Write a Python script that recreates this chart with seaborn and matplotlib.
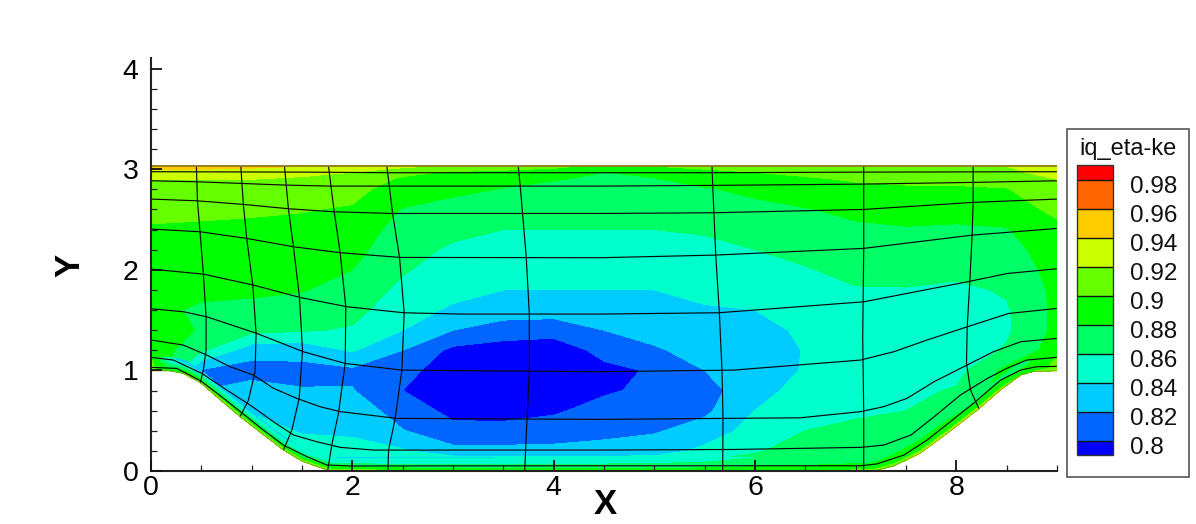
import matplotlib
matplotlib.use('Agg')

import numpy as np
import matplotlib.pyplot as plt
import seaborn as sns
from matplotlib.cm import ScalarMappable
from matplotlib.colors import BoundaryNorm, ListedColormap
from matplotlib.patches import Polygon, Rectangle
from matplotlib.ticker import MultipleLocator

# --- Field ---
GRID_X = [0, .5, 1, 1.5, 2, 2.5, 3, 3.5, 4, 4.5, 5, 5.5, 6, 6.5, 7, 7.5, 8, 8.5, 9]
GRID_Y = [3.03, 2.97, 2.9, 2.8, 2.6, 2.4, 2.2, 2.0, 1.8, 1.6, 1.4, 1.2, 1.0, .8, .6, .4, .2, 0]

# one line per x column, top to bottom
IQ_COLUMNS = [
    [.945, .935, .92, .913, .905, .898, .895, .893, .892, .89, .892, .895, .905, .905, .905, .905, .905, .905],
    [.945, .935, .92, .913, .904, .897, .894, .892, .889, .874, .878, .863, .818, .82, .82, .82, .82, .82],
    [.945, .93, .92, .912, .902, .897, .893, .89, .884, .874, .866, .828, .812, .828, .838, .85, .85, .85],
    [.94, .925, .917, .91, .901, .895, .892, .889, .881, .872, .862, .826, .815, .821, .83, .838, .85, .87],
    [.935, .92, .912, .906, .898, .894, .886, .88, .873, .866, .858, .842, .816, .821, .832, .835, .85, .88],
    [.925, .905, .897, .89, .879, .87, .867, .862, .855, .848, .84, .82, .807, .80, .81, .821, .842, .88],
    [.915, .898, .89, .885, .872, .865, .857, .851, .846, .837, .82, .795, .788, .79, .795, .805, .826, .88],
    [.91, .895, .885, .879, .868, .86, .853, .847, .84, .829, .811, .79, .785, .787, .792, .807, .825, .88],
    [.905, .89, .881, .875, .866, .86, .853, .847, .84, .829, .808, .788, .783, .788, .797, .81, .825, .88],
    [.895, .88, .877, .873, .866, .86, .853, .847, .84, .83, .82, .806, .795, .797, .808, .815, .826, .88],
    [.90, .883, .879, .875, .867, .86, .853, .847, .84, .833, .826, .818, .802, .805, .81, .818, .83, .87],
    [.905, .895, .887, .878, .87, .862, .855, .85, .845, .838, .832, .826, .82, .812, .816, .828, .845, .875],
    [.91, .90, .894, .885, .874, .866, .86, .855, .849, .84, .834, .829, .827, .833, .84, .848, .858, .875],
    [.915, .905, .897, .89, .879, .87, .864, .859, .853, .847, .843, .841, .842, .847, .853, .86, .868, .882],
    [.915, .908, .902, .895, .884, .877, .87, .864, .859, .856, .853, .85, .849, .852, .857, .864, .874, .885],
    [.915, .91, .904, .897, .885, .879, .873, .866, .859, .854, .85, .849, .851, .855, .86, .868, .878, .89],
    [.918, .912, .905, .897, .885, .878, .872, .865, .856, .85, .848, .848, .853, .862, .87, .88, .89, .90],
    [.92, .914, .906, .899, .888, .879, .873, .868, .862, .858, .857, .862, .885, .89, .89, .89, .89, .89],
    [.94, .93, .92, .914, .906, .893, .89, .887, .885, .885, .885, .89, .905, .905, .905, .905, .905, .905],
]

# lower wall of the channel
WALL_X = [0, .19, .32, .49, .69, .885, 1.12, 1.315, 1.51, 1.78, 2.5, 3.5, 4.5, 5.5, 6.5,
          7.18, 7.38, 7.64, 7.91, 8.21, 8.44, 8.64, 8.77, 9]
WALL_Y = [.995, .995, .97, .878, .706, .54, .358, .209, .093, 0, 0, 0, 0, 0, 0,
          0, .05, .176, .374, .606, .805, .954, .99, .995]
TOP_Y = 3.03

# thin layer along the wall: height above wall, then value per wall station
STRIP_D = [0, .03, .08, .13]
STRIP_IQ = [
    [.905, .905, .905, .90],
    [.89, .878, .855, .84],
    [.90, .88, .85, .83],
    [.91, .885, .85, .825],
    [.915, .885, .855, .83],
    [.915, .885, .855, .835],
    [.915, .885, .855, .835],
    [.915, .885, .855, .835],
    [.915, .885, .858, .84],
    [.915, .888, .86, .84],
    [.905, .88, .85, .838],
    [.90, .878, .855, .84],
    [.90, .878, .855, .84],
    [.90, .88, .862, .85],
    [.90, .885, .875, .87],
    [.91, .89, .88, .875],
    [.915, .895, .885, .878],
    [.925, .895, .885, .88],
    [.93, .895, .885, .88],
    [.93, .89, .88, .875],
    [.925, .89, .88, .875],
    [.90, .885, .875, .88],
    [.90, .89, .885, .88],
    [.905, .905, .905, .90],
]

# mesh lines running along the channel
MESH_ALONG = [
    ([0, .255, .49, .70, .918, 1.117, 1.315, 1.55, 1.746, 1.98, 4.46, 7.05, 7.21, 7.48, 7.71, 7.94, 8.17, 8.44, 8.64, 8.8, 9],
     [1.03, 1.02, .898, .739, .566, .407, .258, .142, .06, .05, .052, .052, .07, .159, .308, .49, .673, .904, 1.004, 1.037, 1.04]),
    ([0, .222, .504, .752, .984, 1.216, 1.415, 1.647, 1.88, 2.21, 4.46, 5.79, 7.05, 7.28, 7.55, 7.78, 8.04, 8.31, 8.5, 8.7, 9],
     [1.13, 1.103, .97, .805, .656, .49, .358, .291, .235, .208, .208, .214, .235, .258, .358, .54, .755, .921, 1.02, 1.103, 1.13]),
    ([0, .32, .553, .785, 1.017, 1.216, 1.448, 1.68, 1.88, 2.442, 4.464, 6.45, 7.05, 7.28, 7.51, 7.78, 8.04, 8.37, 8.64, 9],
     [1.302, 1.252, 1.153, 1.037, .954, .822, .722, .639, .59, .523, .513, .529, .59, .64, .722, .888, 1.02, 1.186, 1.285, 1.318]),
    ([0, .322, .554, 1.05, 1.515, 1.929, 2.492, 4.464, 5.79, 7.05, 7.38, 7.71, 8.11, 8.52, 9],
     [1.613, 1.583, 1.533, 1.368, 1.185, 1.069, 1.003, .987, 1.003, 1.103, 1.186, 1.302, 1.434, 1.566, 1.616]),
    ([0, .52, 1.018, 1.481, 1.945, 2.509, 3.072, 4.464, 5.64, 7.08, 8.11, 8.51, 9],
     [2.007, 1.957, 1.848, 1.725, 1.633, 1.573, 1.56, 1.56, 1.573, 1.682, 1.881, 1.964, 2.01]),
    ([0, .487, .951, 1.415, 1.879, 2.475, 4.464, 5.6, 7.08, 8.16, 9],
     [2.405, 2.378, 2.312, 2.229, 2.17, 2.123, 2.12, 2.146, 2.213, 2.345, 2.411]),
    ([0, .454, .918, 1.365, 1.813, 2.393, 4.464, 5.59, 7.08, 8.16, 9],
     [2.703, 2.686, 2.65, 2.607, 2.577, 2.56, 2.56, 2.567, 2.6, 2.67, 2.703]),
    ([0, .454, .885, 1.332, 1.78, 4.464, 5.57, 7.08, 8.17, 9],
     [2.885, 2.875, 2.859, 2.842, 2.832, 2.832, 2.839, 2.852, 2.869, 2.885]),
    ([0, 1.55, 2.36, 4.464, 5.57, 7.08, 9],
     [2.975, 2.971, 2.965, 2.965, 2.965, 2.971, 2.975]),
]

# mesh lines running across the channel
MESH_ACROSS = [
    ([.451, .461, .487, .52, .547, .547, .52, .49],
     [3.03, 2.693, 2.378, 1.964, 1.533, 1.202, 1.003, .878]),
    ([.892, .918, .951, 1.011, 1.044, 1.034, .968, .885],
     [3.03, 2.643, 2.312, 1.848, 1.368, .987, .705, .54]),
    ([1.326, 1.365, 1.415, 1.475, 1.505, 1.472, 1.399, 1.316],
     [3.03, 2.607, 2.229, 1.725, 1.202, .722, .407, .209]),
    ([1.763, 1.82, 1.879, 1.935, 1.929, 1.863, 1.796, 1.755],
     [3.03, 2.577, 2.17, 1.633, 1.069, .579, .258, .005]),
    ([2.343, 2.4, 2.469, 2.515, 2.492, 2.426, 2.36, 2.353],
     [3.03, 2.56, 2.123, 1.573, 1.003, .523, .208, 0]),
    ([3.648, 3.668, 3.728, 3.758, 3.758, 3.735, 3.712],
     [3.03, 2.832, 2.12, 1.56, .987, .513, 0]),
    ([5.573, 5.58, 5.61, 5.646, 5.672, 5.682, 5.679],
     [3.03, 2.839, 2.146, 1.573, 1.003, .529, 0]),
    ([7.08, 7.08, 7.07, 7.08, 7.08],
     [3.03, 2.2, 1.335, .589, 0]),
    ([8.167, 8.167, 8.157, 8.134, 8.108, 8.101, 8.141, 8.224],
     [3.03, 2.67, 2.345, 1.881, 1.434, 1.07, .804, .62]),
]

BAND_LEVELS = [.79, .80, .82, .84, .86, .88, .90, .92, .94, .96, .98, .99]
BAND_COLORS = ["#0000ff", "#0066ff", "#00ccff", "#00ffcc", "#00ff66", "#00ff00",
               "#66ff00", "#ccff00", "#ffcc00", "#ff6600", "#ff0000"]
BAR_TICKS = [.80, .82, .84, .86, .88, .90, .92, .94, .96, .98]
BAR_LABELS = ["0.8", "0.82", "0.84", "0.86", "0.88", "0.9", "0.92", "0.94", "0.96", "0.98"]

W, H = 1196, 524

sns.set_theme(style="white")
plt.rcParams['font.family'] = ['Liberation Sans', 'DejaVu Sans']

fig = plt.figure(figsize=(W / 100, H / 100), dpi=100, facecolor="white")
ax = fig.add_axes([151 / W, (H - 471) / H, 906 / W, 413 / H])

# contourf needs open ends so values beyond the bar still get filled
fill_levels = [.70] + BAND_LEVELS[1:-1] + [1.0]

grid_x, grid_y = np.meshgrid(GRID_X, GRID_Y)
field = np.array(IQ_COLUMNS).T
main = ax.contourf(grid_x, grid_y, field, levels=fill_levels, colors=BAND_COLORS, zorder=1)

domain = Polygon(list(zip(WALL_X, WALL_Y)) + [(9, TOP_Y), (0, TOP_Y)], closed=True,
                 transform=ax.transData, facecolor="none", edgecolor="none")
ax.add_patch(domain)
main.set_clip_path(domain)

strip_x = np.array([WALL_X] * len(STRIP_D))
strip_y = np.array(WALL_Y) + np.array(STRIP_D)[:, None]
ax.contourf(strip_x, strip_y, np.array(STRIP_IQ).T, levels=fill_levels, colors=BAND_COLORS, zorder=1.1)

# --- Mesh ---
for xs, ys in MESH_ALONG + MESH_ACROSS:
    sns.lineplot(x=xs, y=ys, sort=False, estimator=None, color="#0a0a0a", linewidth=.85, ax=ax, zorder=2)

# olive edge on the top and wall boundaries
sns.lineplot(x=[0, 9], y=[TOP_Y, TOP_Y], sort=False, estimator=None, color="#8c7a14", linewidth=1.3, ax=ax, zorder=2)
sns.lineplot(x=WALL_X[:10], y=WALL_Y[:10], sort=False, estimator=None, color="#8c9a14", linewidth=.6, ax=ax, zorder=2)
sns.lineplot(x=WALL_X[15:], y=WALL_Y[15:], sort=False, estimator=None, color="#8c9a14", linewidth=.6, ax=ax, zorder=2)

# --- Axes ---
ax.set_xlim(0, 9)
ax.set_ylim(0, 413 / 100.6)
ax.set_axisbelow(False)
ax.patch.set_alpha(0)
sns.despine(ax=ax)
for side in ["left", "bottom"]:
    ax.spines[side].set_linewidth(1.5)
    ax.spines[side].set_color("#222222")

ax.set_xticks([0, 2, 4, 6, 8])
ax.set_yticks([0, 1, 2, 3, 4])
ax.xaxis.set_minor_locator(MultipleLocator(.5))
ax.yaxis.set_minor_locator(MultipleLocator(.2))
ax.tick_params(which="major", direction="in", length=8, width=1.3, color="#111111",
               bottom=True, left=True, labelsize=20.5, labelcolor="black")
ax.tick_params(which="minor", direction="in", length=4.3, width=.9, color="#222222",
               bottom=True, left=True)
ax.tick_params(axis="x", which="major", pad=3)
ax.tick_params(axis="y", which="major", pad=9)

ax.set_xlabel("X", fontsize=25, fontweight="bold", va="center", color="black")
ax.set_ylabel("Y", fontsize=25, fontweight="bold", va="center", color="black")
ax.xaxis.set_label_coords((605 - 151) / 906, (471 - 505) / 413)
ax.yaxis.set_label_coords((70 - 151) / 906, (471 - 265) / 413)

# --- Legend box ---
fig.add_artist(Rectangle((1067 / W, (H - 477) / H), 122 / W, 348 / H, transform=fig.transFigure,
                         facecolor="white", edgecolor="#555555", linewidth=1.2, zorder=-1))
fig.text(1128 / W, (H - 149) / H, "iq_eta-ke", fontsize=17, ha="center", va="center", color="#111111")

cax = fig.add_axes([1077 / W, (H - 455) / H, 36 / W, 290 / H])
cax.set_zorder(5)
norm = BoundaryNorm(BAND_LEVELS, len(BAND_COLORS))
bar = fig.colorbar(ScalarMappable(norm=norm, cmap=ListedColormap(BAND_COLORS)), cax=cax,
                   spacing="proportional", drawedges=True)
bar.dividers.set_color("#111111")
bar.dividers.set_linewidth(1)
bar.outline.set_edgecolor("#333333")
bar.outline.set_linewidth(1)
bar.set_ticks([t - .0034 for t in BAR_TICKS], labels=BAR_LABELS)
bar.minorticks_off()
cax.tick_params(length=0, labelsize=17.5, pad=12.5, labelcolor="#111111")

fig.savefig("out.png", dpi=100)
